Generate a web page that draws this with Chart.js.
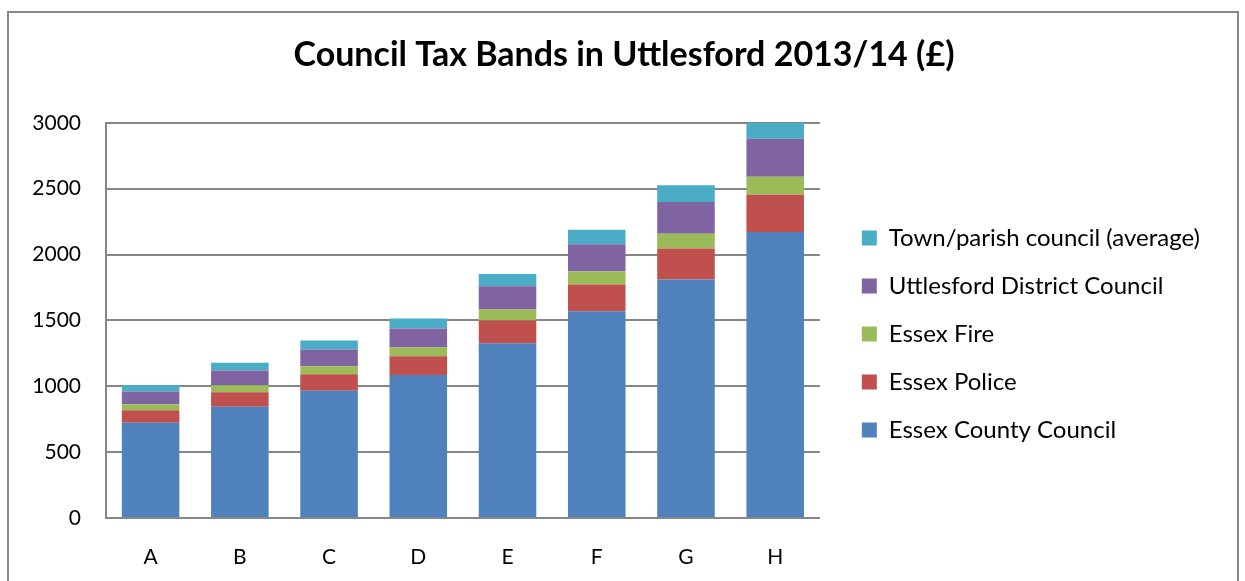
<!DOCTYPE html>
<html>
<head>
<title>Council Tax Bands</title>
<script src="https://cdn.jsdelivr.net/npm/chart.js"></script>
<style>
body{margin:0;background:#fff}
#box{position:absolute;left:7px;top:11px;width:1232px;height:580px;border:2px solid #888;box-sizing:border-box}
</style>
</head>
<body>
<div id="box"><canvas id="myChart" width="1228" height="566"></canvas></div>
<script>
// bands and the pounds each body charges
var bands = ['A','B','C','D','E','F','G','H'];
var county = [724, 844.67, 965.33, 1086, 1327.33, 1568.67, 1810, 2172];
var police = [94, 109.67, 125.33, 141, 172.33, 203.67, 235, 282];
var fire = [45.33, 52.89, 60.44, 68, 83.11, 98.22, 113.33, 136];
var uttlesford = [96, 112, 128, 144, 176, 208, 240, 288];
var parish = [50.67, 59.11, 67.56, 76, 92.89, 109.78, 126.67, 152];
var yTicks = [0, 500, 1000, 1500, 2000, 2500, 3000];

var font = "Lato, 'Open Sans', sans-serif";
function ds(label, data, colour)
{
	return {label:label, data:data, backgroundColor:colour, borderWidth:0, barPercentage:0.645, categoryPercentage:1};
}

// move the legend away from the plot and down, and centre the title on the frame
var nudge = {id:'nudge', afterLayout:function(chart)
{
	var lg = chart.legend, t = chart.titleBlock;
	lg.left += 18; lg.right += 18;
	lg.top += 43; lg.bottom += 43;
	t.left += 14; t.right += 14;
}};

var ctx = document.getElementById('myChart');
var myChart = new Chart(ctx,
{
	type:'bar',
	data:{
		labels:bands,
		datasets:[
			ds('Essex County Council', county, '#4f81bd'),
			ds('Essex Police', police, '#c0504d'),
			ds('Essex Fire', fire, '#9bbb59'),
			ds('Uttlesford District Council', uttlesford, '#8064a2'),
			ds('Town/parish council (average)', parish, '#4bacc6')
		]
	},
	plugins:[nudge],
	options:{
		responsive:false,
		animation:false,
		layout:{padding:{left:19, right:45, top:0, bottom:10}},
		plugins:{
			title:{display:true, text:'Council Tax Bands in Uttlesford 2013/14 (£)', color:'#000',
				font:{family:font, size:34, weight:'bold'}, padding:{top:22, bottom:47}},
			legend:{position:'right', reverse:true, maxWidth:420,
				labels:{color:'#000', font:{family:font, size:24}, boxWidth:15, boxHeight:15, padding:24}},
			tooltip:{enabled:false}
		},
		scales:{
			x:{stacked:true,
				afterFit:function(s){ s.height = 51; },
				grid:{display:false, drawTicks:false},
				border:{color:'#868686', width:2},
				ticks:{color:'#000', font:{family:font, size:21}, padding:27}},
			y:{stacked:true, min:0, max:3000,
				afterFit:function(s){ s.width = 78; },
				afterBuildTicks:function(s){ s.ticks = yTicks.map(function(v){return {value:v};}); },
				grid:{color:'#868686', lineWidth:2, drawTicks:false},
				border:{color:'#868686', width:2},
				ticks:{color:'#000', font:{family:font, size:21}, padding:25,
					callback:function(v){ return String(v); }}}
		}
	}
});
</script>
</body>
</html>
